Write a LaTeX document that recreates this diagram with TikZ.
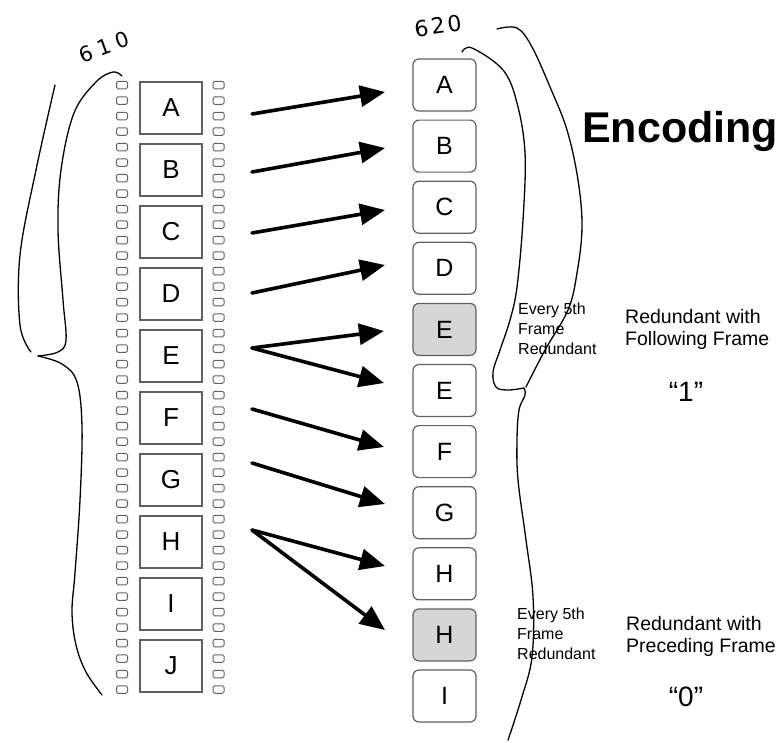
\documentclass[tikz,border=0pt]{standalone}
\usepackage{fontspec}
\setmainfont{Liberation Sans}
\newfontfamily\handfont[LetterSpace=12]{DejaVu Sans}
\newfontfamily\handwide[LetterSpace=28]{DejaVu Sans}
\usetikzlibrary{arrows.meta,calc}
\definecolor{boxgray}{gray}{0.38}
\definecolor{boxfill}{gray}{0.84}
\begin{document}
\begin{tikzpicture}[x=1pt,y=-1pt,
  frm/.style={draw=boxgray, line width=1.2pt, minimum width=62pt, minimum height=52pt, inner sep=0pt, font=\fontsize{26}{28}\selectfont},
  rbox/.style={frm, rounded corners=6pt, minimum width=63pt, font=\fontsize{25}{28}\selectfont},
  hl/.style={fill=boxfill},
  hole/.style={draw=boxgray, line width=1pt, rounded corners=1.5pt, minimum width=11pt, minimum height=7.5pt, inner sep=0pt},
  arr/.style={line width=3.6pt, line cap=round, -{Triangle[length=25pt,width=21pt]}},
  brace/.style={line width=1.3pt, line cap=round, line join=round},
  small/.style={anchor=base west, inner sep=0pt, font=\fontsize{16}{19}\selectfont},
  mid/.style={anchor=base west, inner sep=0pt, font=\fontsize{19.5}{22}\selectfont},
  bit/.style={anchor=base, inner sep=0pt, font=\fontsize{28}{30}\selectfont},
  hand/.style={inner sep=0pt, font=\fontsize{22}{24}\selectfont\handfont}
]
\useasboundingbox (0,0) rectangle (783,742);

% sprocket holes
\foreach \i in {0,...,39} {
  \node[hole] (hl\i) at (122, 85+15.5*\i) {};
  \node[hole] (hr\i) at (218.5, 85+15.5*\i) {};
}

% left film frames
\node[frm] (LA) at (171,108) {A};
\node[frm] (LB) at (171,170) {B};
\node[frm] (LC) at (171,232) {C};
\node[frm] (LD) at (171,294) {D};
\node[frm] (LE) at (171,356) {E};
\node[frm] (LF) at (171,418) {F};
\node[frm] (LG) at (171,480) {G};
\node[frm] (LH) at (171,542) {H};
\node[frm] (LI) at (171,604) {I};
\node[frm] (LJ) at (171,666) {J};

% right encoded frames
\node[rbox] (R1) at (444.5,85) {A};
\node[rbox] (R2) at (444.5,146.1) {B};
\node[rbox] (R3) at (444.5,207.2) {C};
\node[rbox] (R4) at (444.5,268.3) {D};
\node[rbox,hl] (R5) at (444.5,329.4) {E};
\node[rbox] (R6) at (444.5,390.5) {E};
\node[rbox] (R7) at (444.5,451.6) {F};
\node[rbox] (R8) at (444.5,512.7) {G};
\node[rbox] (R9) at (444.5,573.8) {H};
\node[rbox,hl] (R10) at (444.5,634.9) {H};
\node[rbox] (R11) at (444.5,696) {I};

% arrow end points
\coordinate (sA) at (252,114);  \coordinate (eA) at (385,92);
\coordinate (sB) at (252,172);  \coordinate (eB) at (385,148);
\coordinate (sC) at (252,233);  \coordinate (eC) at (385,210);
\coordinate (sD) at (252,293);  \coordinate (eD) at (385,265);
\coordinate (sE) at (252,348);  \coordinate (eE1) at (384,331); \coordinate (eE2) at (384,383);
\coordinate (sF) at (252,409);  \coordinate (eF) at (384,447);
\coordinate (sG) at (252,463);  \coordinate (eG) at (385,504);
\coordinate (sH) at (252,530);  \coordinate (eH1) at (385,566); \coordinate (eH2) at (385,630);

\draw[arr] (sA) -- (eA);
\draw[arr] (sB) -- (eB);
\draw[arr] (sC) -- (eC);
\draw[arr] (sD) -- (eD);
\draw[arr] (sE) -- (eE1);
\draw[arr] (sE) -- (eE2);
\draw[arr] (sF) -- (eF);
\draw[arr] (sG) -- (eG);
\draw[arr] (sH) -- (eH1);
\draw[arr] (sH) -- (eH2);

% left brace (610)
\draw[brace] plot[smooth, tension=0.6] coordinates {(55,85) (36,170) (20,255) (20,325) (31,352)};
\draw[brace] plot[smooth, tension=0.6] coordinates {(122,76) (113,72) (96,82) (74,113) (61,170) (58,230) (63,300) (66,340) (58,352) (38,356)};
\draw[brace] plot[smooth, tension=0.6] coordinates {(38,356) (62,364) (77,382) (82,427) (80,500) (75,573) (72,612) (76,645) (86,672) (102,695)};

% right brace (620)
\draw[brace] plot[smooth, tension=0.6] coordinates {(497,29) (517,28) (532,47) (550,87) (567,130) (578,180) (582,227) (577,273) (568,310) (545,350) (526,387)};
\draw[brace] plot[smooth, tension=0.6] coordinates {(462,52) (472,48) (503,70) (517,103) (525,153) (523,220) (517,287) (510,320) (500,350) (493,372) (496,387) (508,390) (524,388)};
\draw[brace] plot[smooth, tension=0.6] coordinates {(524,388) (525,395) (519,410) (517,440) (518,480) (526,540) (533,597) (532,657) (521,700) (508,740)};

% handwritten labels
\node[inner sep=0pt, font=\fontsize{21}{24}\selectfont\handwide, rotate=20] (n610) at (104,47) {610};
\node[hand, rotate=8] (n620) at (438,26) {620};

% titles and texts
\node[anchor=base west, inner sep=0pt, font=\fontsize{43}{46}\selectfont\bfseries] (enc) at (582,142) {Encoding};

\node[small] (t1a) at (518,314) {Every 5th};
\node[small] (t1b) at (518,334) {Frame};
\node[small] (t1c) at (518,354) {Redundant};
\node[mid] (r1a) at (625,323) {Redundant with};
\node[mid] (r1b) at (625,345) {Following Frame};
\node[bit] (b1) at (686,401) {“1”};

\node[small] (t2a) at (517,619) {Every 5th};
\node[small] (t2b) at (517,639) {Frame};
\node[small] (t2c) at (517,659) {Redundant};
\node[mid] (r2a) at (626,630) {Redundant with};
\node[mid] (r2b) at (626,652) {Preceding Frame};
\node[bit] (b0) at (686,706) {“0”};
\end{tikzpicture}
\end{document}
